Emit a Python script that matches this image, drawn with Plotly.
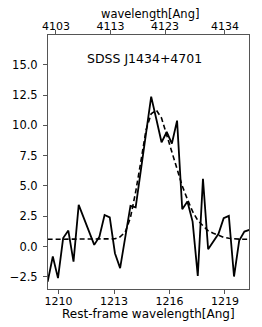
import plotly.graph_objects as go

# Rest-frame wavelength grid (Angstrom) of the spectrum pixels
rest_wave = [1209.41, 1209.69, 1209.97, 1210.25, 1210.53, 1210.81, 1211.09, 1211.37,
             1211.65, 1211.93, 1212.21, 1212.49, 1212.77, 1213.05, 1213.33, 1213.61,
             1213.89, 1214.17, 1214.45, 1214.73, 1215.01, 1215.29, 1215.57, 1215.85,
             1216.13, 1216.41, 1216.69, 1216.97, 1217.25, 1217.53, 1217.81, 1218.09,
             1218.37, 1218.65, 1218.93, 1219.21, 1219.49, 1219.77, 1220.05, 1220.33]

# Observed flux (solid line)
flux = [-2.9, -0.82, -2.6, 0.7, 1.32, -1.24, 3.44, 2.3,
        1.15, 0.14, 0.82, 2.6, 2.4, -0.55, -1.78, 0.8,
        3.35, 3.24, 6.2, 9.2, 12.37, 10.5, 8.6, 9.45,
        8.5, 10.39, 3.08, 3.71, 2.06, -2.42, 5.58, -0.22,
        0.41, 1.05, 2.34, 2.53, -2.47, 0.49, 1.24, 1.38]

# Model fit (dashed line)
model = [0.6, 0.6, 0.6, 0.6, 0.6, 0.6, 0.6, 0.6,
         0.6, 0.6, 0.6, 0.6, 0.61, 0.64, 0.8, 1.2,
         2.4, 4.5, 7.0, 9.6, 10.95, 11.25, 10.6, 9.25,
         7.8, 6.45, 5.0, 3.9, 2.9, 2.15, 1.7, 1.3,
         1.1, 0.9, 0.76, 0.68, 0.63, 0.61, 0.6, 0.6]

one_plus_z = 3.3913
x_range = [1209.43, 1220.3]
y_range = [-3.5, 17.45]
bottom_ticks = [1210, 1213, 1216, 1219]
top_ticks = [4103, 4113, 4123, 4134]
y_ticks = [-2.5, 0.0, 2.5, 5.0, 7.5, 10.0, 12.5, 15.0]
label = "SDSS J1434+4701"

font = "DejaVu Sans"
frame = "#555555"

fig = go.Figure()
fig.add_trace(go.Scatter(x=rest_wave, y=model, mode="lines",
                         line=dict(color="black", width=1.6, dash="5px,3px"),
                         showlegend=False, hoverinfo="skip"))
fig.add_trace(go.Scatter(x=rest_wave, y=flux, mode="lines",
                         line=dict(color="black", width=1.8),
                         showlegend=False))
# invisible trace to anchor the observed-frame top axis
fig.add_trace(go.Scatter(x=[w * one_plus_z for w in rest_wave], y=flux, xaxis="x2",
                         mode="lines", line=dict(width=0, color="rgba(0,0,0,0)"),
                         showlegend=False, hoverinfo="skip"))

# the page body adds an 8px offset, so the figure is 8px smaller on the top/left
fig.update_layout(
    width=254, height=319,
    margin=dict(l=40, r=13, t=27, b=38, autoexpand=False),
    paper_bgcolor="white", plot_bgcolor="white",
    font=dict(family=font, size=11, color="black"),
    xaxis=dict(range=x_range, tickvals=bottom_ticks, ticks="outside", ticklen=4,
               tickcolor=frame, showline=True, linecolor=frame, linewidth=1,
               mirror=True, showgrid=False, zeroline=False, automargin=False,
               tickfont=dict(size=11), ticklabelstandoff=-2),
    xaxis2=dict(range=[x_range[0] * one_plus_z, x_range[1] * one_plus_z],
                overlaying="x", side="top", tickvals=top_ticks,
                ticks="outside", ticklen=4, tickcolor=frame, automargin=False,
                showgrid=False, zeroline=False, showline=False,
                tickfont=dict(size=11), ticklabelstandoff=-4),
    yaxis=dict(range=y_range, tickvals=y_ticks, tickformat=".1f", ticks="outside",
               ticklen=4, tickcolor=frame, showline=True, linecolor=frame,
               linewidth=1, mirror=True, showgrid=False, zeroline=False,
               automargin=False, tickfont=dict(size=11.5), ticklabelstandoff=3),
    annotations=[
        dict(text=label, xref="paper", yref="paper", x=0.48, y=0.906,
             showarrow=False, font=dict(size=12.5, family=font),
             xanchor="center", yanchor="middle"),
        dict(text="Rest-frame wavelength[Ang]", xref="paper", yref="paper",
             x=0.5, y=-0.098, showarrow=False, font=dict(size=12, family=font),
             xanchor="center", yanchor="middle"),
        dict(text="wavelength[Ang]", xref="paper", yref="paper",
             x=0.505, y=1.082, showarrow=False, font=dict(size=11.5, family=font),
             xanchor="center", yanchor="middle"),
    ],
)

fig.write_html("out.html")
